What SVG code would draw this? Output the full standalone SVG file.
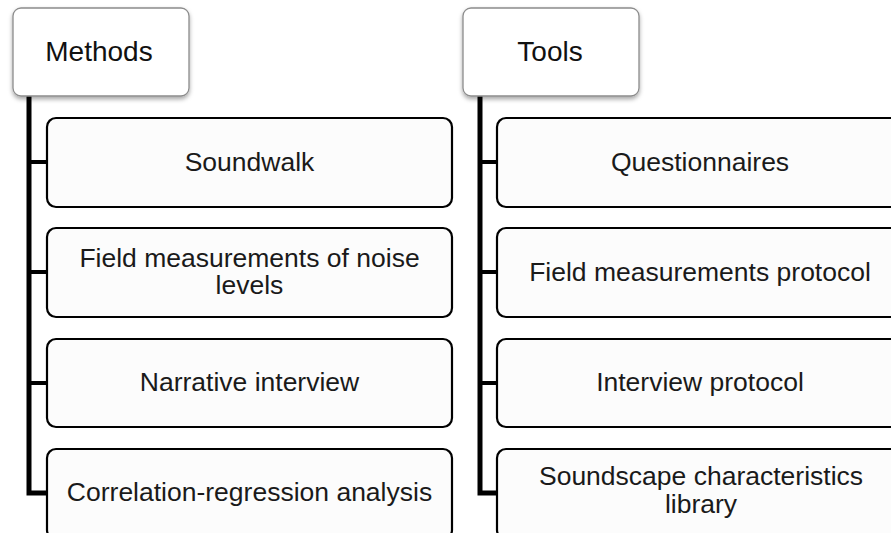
<svg xmlns="http://www.w3.org/2000/svg" width="891" height="533" viewBox="0 0 891 533">
<style>
.hdr{fill:#fff;stroke:#8c8c8c;stroke-width:1.3}
.box{fill:#fcfcfc;stroke:#000;stroke-width:2.2}
.ht{font-family:"Liberation Sans",Arial,sans-serif;font-size:28px;fill:#111;text-anchor:middle}
.t{font-family:"Liberation Sans",Arial,sans-serif;font-size:26.5px;fill:#1a1a1a;text-anchor:middle}
.c{fill:none;stroke:#000;stroke-width:5;stroke-linejoin:miter}
.b{fill:none;stroke:#000;stroke-width:4}
</style>
<defs>
<filter id="sh" x="-10%" y="-10%" width="120%" height="130%">
<feDropShadow dx="0" dy="2.5" stdDeviation="2" flood-color="#000" flood-opacity="0.35"/>
</filter>
</defs>
<rect width="891" height="533" fill="#fff"/>
<g id="connectors">
<path class="c" d="M29,96 V493 H47"/>
<path class="b" d="M29,162 H47 M29,272 H47 M29,383 H47"/>
<path class="c" d="M480,96 V493 H497"/>
<path class="b" d="M480,162 H497 M480,272 H497 M480,383 H497"/>
</g>
<g id="methods">
<rect class="hdr" x="13" y="8" width="176" height="88" rx="8" filter="url(#sh)"/>
<text class="ht" x="99" y="61">Methods</text>
</g>
<g id="tools">
<rect class="hdr" x="463" y="8" width="176" height="88" rx="8" filter="url(#sh)"/>
<text class="ht" x="550" y="61">Tools</text>
</g>
<g id="soundwalk">
<rect class="box" x="47" y="118" width="405" height="89" rx="9"/>
<text class="t" x="249.5" y="171">Soundwalk</text>
</g>
<g id="field-measurements">
<rect class="box" x="47" y="228" width="405" height="89" rx="9"/>
<text class="t" x="249.5" y="267">Field measurements of noise</text>
<text class="t" x="249.5" y="294">levels</text>
</g>
<g id="narrative-interview">
<rect class="box" x="47" y="339" width="405" height="88" rx="9"/>
<text class="t" x="249.5" y="391">Narrative interview</text>
</g>
<g id="correlation-regression">
<rect class="box" x="47" y="449" width="405" height="90" rx="9"/>
<text class="t" x="249.5" y="501">Correlation-regression analysis</text>
</g>
<g id="questionnaires">
<rect class="box" x="497" y="118" width="406" height="89" rx="9"/>
<text class="t" x="700" y="171">Questionnaires</text>
</g>
<g id="field-protocol">
<rect class="box" x="497" y="228" width="406" height="89" rx="9"/>
<text class="t" x="700" y="281">Field measurements protocol</text>
</g>
<g id="interview-protocol">
<rect class="box" x="497" y="339" width="406" height="88" rx="9"/>
<text class="t" x="700" y="391">Interview protocol</text>
</g>
<g id="soundscape-library">
<rect class="box" x="497" y="449" width="406" height="90" rx="9"/>
<text class="t" x="701" y="485">Soundscape characteristics</text>
<text class="t" x="701" y="513">library</text>
</g>
</svg>
